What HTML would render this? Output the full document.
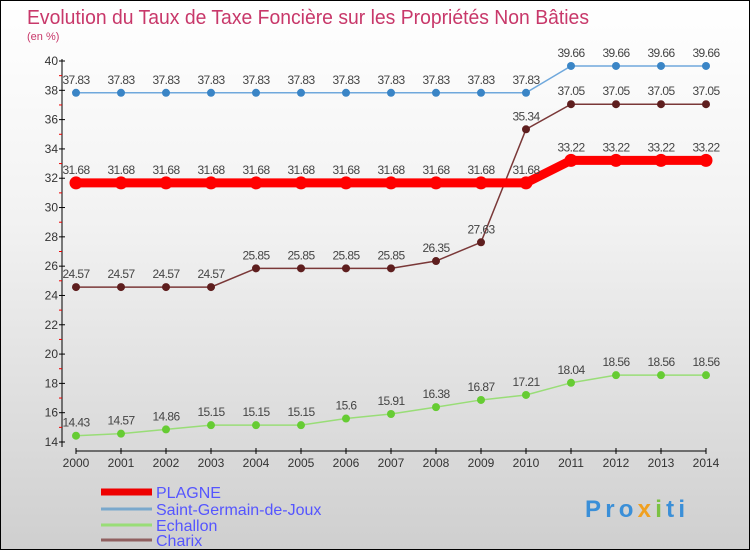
<!DOCTYPE html>
<html><head><meta charset="utf-8"><style>
body{margin:0}
#c{width:750px;height:550px;position:relative;background:linear-gradient(#ffffff,#f2f2f2 40%,#cfcfcf);border:1px solid #000;box-sizing:border-box;font-family:"Liberation Sans","DejaVu Sans",sans-serif;overflow:hidden}
</style></head><body>
<div id="c">
<svg id="s" width="750" height="550" style="position:absolute;left:0;top:0">
<text x="26" y="23" font-size="20" fill="#c8386a" textLength="562" lengthAdjust="spacingAndGlyphs">Evolution du Taux de Taxe Foncière sur les Propriétés Non Bâties</text>
<text x="26" y="39" font-size="11" fill="#c8386a">(en %)</text>
<g id="axes"></g><g id="series"></g><g id="legend"></g>
<text x="584" y="516" font-size="24" font-weight="bold" fill="#3a8fd8" textLength="100">Pro<tspan fill="#f0a020">x</tspan><tspan fill="#7bc143">i</tspan>ti</text>
</svg></div>
<script>
const years=[2000,2001,2002,2003,2004,2005,2006,2007,2008,2009,2010,2011,2012,2013,2014];
const plagne=[31.68,31.68,31.68,31.68,31.68,31.68,31.68,31.68,31.68,31.68,31.68,33.22,33.22,33.22,33.22];
const saintGermain=[37.83,37.83,37.83,37.83,37.83,37.83,37.83,37.83,37.83,37.83,37.83,39.66,39.66,39.66,39.66];
const echallon=[14.43,14.57,14.86,15.15,15.15,15.15,15.6,15.91,16.38,16.87,17.21,18.04,18.56,18.56,18.56];
const charix=[24.57,24.57,24.57,24.57,25.85,25.85,25.85,25.85,26.35,27.63,35.34,37.05,37.05,37.05,37.05];
const yTicks=[14,16,18,20,22,24,26,28,30,32,34,36,38,40];
const NS="http://www.w3.org/2000/svg";
const xS=i=>75+i*45;
const yS=v=>441-(v-14)*(381/26);
function mk(p,tag,a){const e=document.createElementNS(NS,tag);for(const k in a)e.setAttribute(k,a[k]);p.appendChild(e);return e;}
const ax=document.getElementById('axes');
let e=mk(ax,'line',{x1:61,y1:58,x2:61,y2:446,stroke:'#000'});

e=mk(ax,'line',{x1:75,y1:450,x2:705,y2:450,stroke:'#000'});

for(let v=14;v<=40;v++){if(v%2){mk(ax,'line',{x1:58,y1:yS(v),x2:61,y2:yS(v),stroke:'#e00'});}}
yTicks.forEach(v=>{mk(ax,'line',{x1:58,y1:yS(v),x2:64,y2:yS(v),stroke:'#000'});
const t=mk(ax,'text',{x:57,y:yS(v)+4,'font-size':12,'text-anchor':'end',fill:'#333'});t.textContent=v;
});
years.forEach((y,i)=>{mk(ax,'line',{x1:xS(i),y1:447,x2:xS(i),y2:453,stroke:'#000'});
const t=mk(ax,'text',{x:xS(i),y:466,'font-size':12,'text-anchor':'middle',fill:'#333'});t.textContent=y;
});
const se=document.getElementById('series');
function draw(name,vals,color,dot,w,r){
const g=mk(se,'g',{});
const p=mk(g,'polyline',{points:vals.map((v,i)=>xS(i)+','+yS(v)).join(' '),fill:'none',stroke:color,'stroke-width':w});

vals.forEach((v,i)=>{const c=mk(g,'circle',{cx:xS(i),cy:yS(v),r:r,fill:dot});

const t=mk(g,'text',{x:xS(i),y:yS(v)-9,'font-size':12,'text-anchor':'middle',fill:'#444','letter-spacing':'-0.6'});t.textContent=v;
});}
draw('saint-germain',saintGermain,'#6fa8dc','#3a85c6',1.5,4);
draw('charix',charix,'#7a3838','#5e1e1e',1.5,4);
draw('echallon',echallon,'#99dd77','#66cc33',1.5,4);
draw('plagne',plagne,'#ff0000','#ff0000',9,6.5);
const lg=document.getElementById('legend');
[['PLAGNE','#ee0000',7,491],['Saint-Germain-de-Joux','#7aa8cc',3,508],['Echallon','#99dd77',3,524],['Charix','#906060',3,539]].forEach(([n,c,w,y])=>{
const g=mk(lg,'g',{});
mk(g,'line',{x1:100,y1:y,x2:151,y2:y,stroke:c,'stroke-width':w});
const t=mk(g,'text',{x:155,y:y+6,'font-size':16,fill:'#5555ff'});t.textContent=n;});
</script>
</body></html>
